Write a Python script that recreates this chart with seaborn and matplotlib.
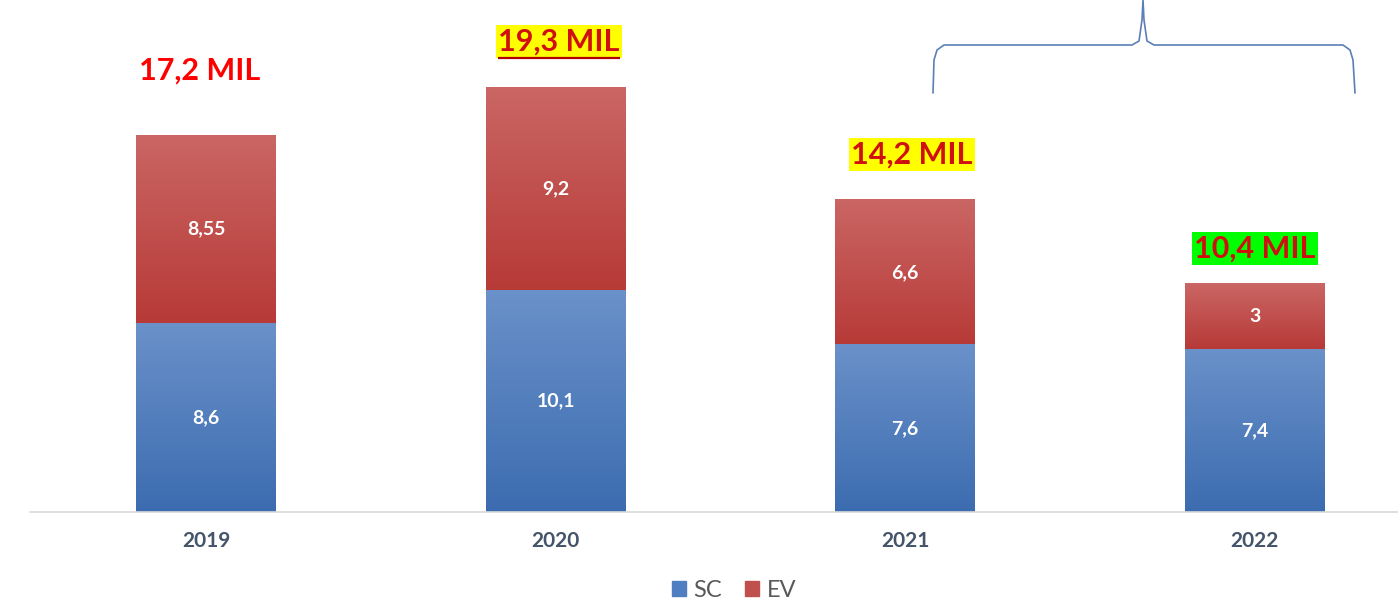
import matplotlib.pyplot as plt
import matplotlib.patches as mpatches
from matplotlib.colors import LinearSegmentedColormap
import numpy as np
import pandas as pd
import seaborn as sns

years = ['2019', '2020', '2021', '2022']
sc = [8.6, 10.1, 7.6, 7.4]
ev = [8.55, 9.2, 6.6, 3.0]
sc_labels = ['8,6', '10,1', '7,6', '7,4']
ev_labels = ['8,55', '9,2', '6,6', '3']
total_labels = ['17,2 MIL', '19,3 MIL', '14,2 MIL', '10,4 MIL']
total_bg = [None, '#ffff00', '#ffff00', '#00ff00']

df = pd.DataFrame({'Year': years, 'SC': sc, 'EV': ev})
df['Total'] = df['SC'] + df['EV']

sns.set_style('white')
plt.rcParams['font.family'] = ['Lato', 'DejaVu Sans']

blue = '#4f7fc0'
red = '#c0504d'
blue_grad = LinearSegmentedColormap.from_list('b', ['#3c6cb0', '#6a91c9'])
red_grad = LinearSegmentedColormap.from_list('r', ['#b73a37', '#ca6664'])

fig = plt.figure(figsize=(13.98, 6.09), dpi=100)
ax = fig.add_axes([30 / 1398, 97 / 609, 1 - 30 / 1398, 512 / 609])

sns.barplot(data=df, x='Year', y='Total', color=red, width=0.40,
            saturation=1, linewidth=0, ax=ax)
sns.barplot(data=df, x='Year', y='SC', color=blue, width=0.40,
            saturation=1, linewidth=0, ax=ax)

ax.set_xlim(-0.504, 3.41)
ax.set_ylim(0, 23.3)

# vertical gradient fill on each segment, taken from the seaborn bars
grad = np.linspace(0, 1, 256).reshape(-1, 1)
n = len(years)
for i, p in enumerate(ax.patches[:2 * n]):
    x0, w, h = p.get_x(), p.get_width(), p.get_height()
    if i < n:
        bottom, cm = sc[i % n], red_grad
    else:
        bottom, cm = 0, blue_grad
    ax.imshow(grad, cmap=cm, origin='lower', aspect='auto',
              extent=[x0, x0 + w, bottom, h], zorder=p.get_zorder() + 0.1)
ax.set_xlim(-0.504, 3.41)
ax.set_ylim(0, 23.3)

for i in range(n):
    ax.text(i, sc[i] / 2, sc_labels[i], ha='center', va='center', zorder=5,
            color='white', fontsize=14, fontweight='bold')
    ax.text(i, sc[i] + ev[i] / 2, ev_labels[i], ha='center', va='center', zorder=5,
            color='white', fontsize=14, fontweight='bold')

# totals above bars
tot_pos = [(-0.02, 20.1), (1.01, 21.4), (2.02, 16.25), (3.0, 12.0)]
for (x, y), lab, bg in zip(tot_pos, total_labels, total_bg):
    if bg is None:
        ax.text(x, y, lab, ha='center', va='center', color='#ff0000',
                fontsize=22, fontweight='bold')
    else:
        ax.text(x, y, lab, ha='center', va='center', color='#d01010',
                fontsize=22, fontweight='bold',
                bbox=dict(boxstyle='square,pad=0.08', fc=bg, ec='none'))
# underline under 2020 total
ax.plot([0.835, 1.185], [20.66, 20.66], color='#b00000', lw=1.6,
        solid_capstyle='butt', zorder=6)

ax.set_xlabel('')
ax.set_ylabel('')
ax.set_yticks([])
ax.tick_params(axis='x', length=0, pad=14)
for lab in ax.get_xticklabels():
    lab.set_fontsize(15)
    lab.set_fontweight('bold')
    lab.set_color('#44546a')
for s in ['top', 'right', 'left']:
    ax.spines[s].set_visible(False)
ax.spines['bottom'].set_color('#d9d9d9')
ax.spines['bottom'].set_linewidth(1.2)

# brace over 2021-2022 (figure pixel coords)
H = 609
def px(x, y):
    return x / 1398, 1 - y / H
bx = [933, 934, 937, 944, 1132, 1139, 1142, 1143, 1144, 1147, 1154, 1343, 1350, 1353, 1355]
by = [93, 60, 50, 45, 45, 41, 20, 0, 20, 41, 45, 45, 50, 60, 93]
pts = [px(x, y) for x, y in zip(bx, by)]
fig.lines.append(plt.Line2D([p[0] for p in pts], [p[1] for p in pts],
                            transform=fig.transFigure, color='#5b7fb5', lw=1.2))

handles = [mpatches.Patch(color=blue, label='SC'), mpatches.Patch(color=red, label='EV')]
fig.legend(handles=handles, loc='center', bbox_to_anchor=(0.525, 0.03), ncol=2,
           frameon=False, fontsize=17, handlelength=0.6, handleheight=0.6,
           handletextpad=0.3, columnspacing=1.0, labelcolor='#595959')

fig.savefig('out.png', dpi=100)
